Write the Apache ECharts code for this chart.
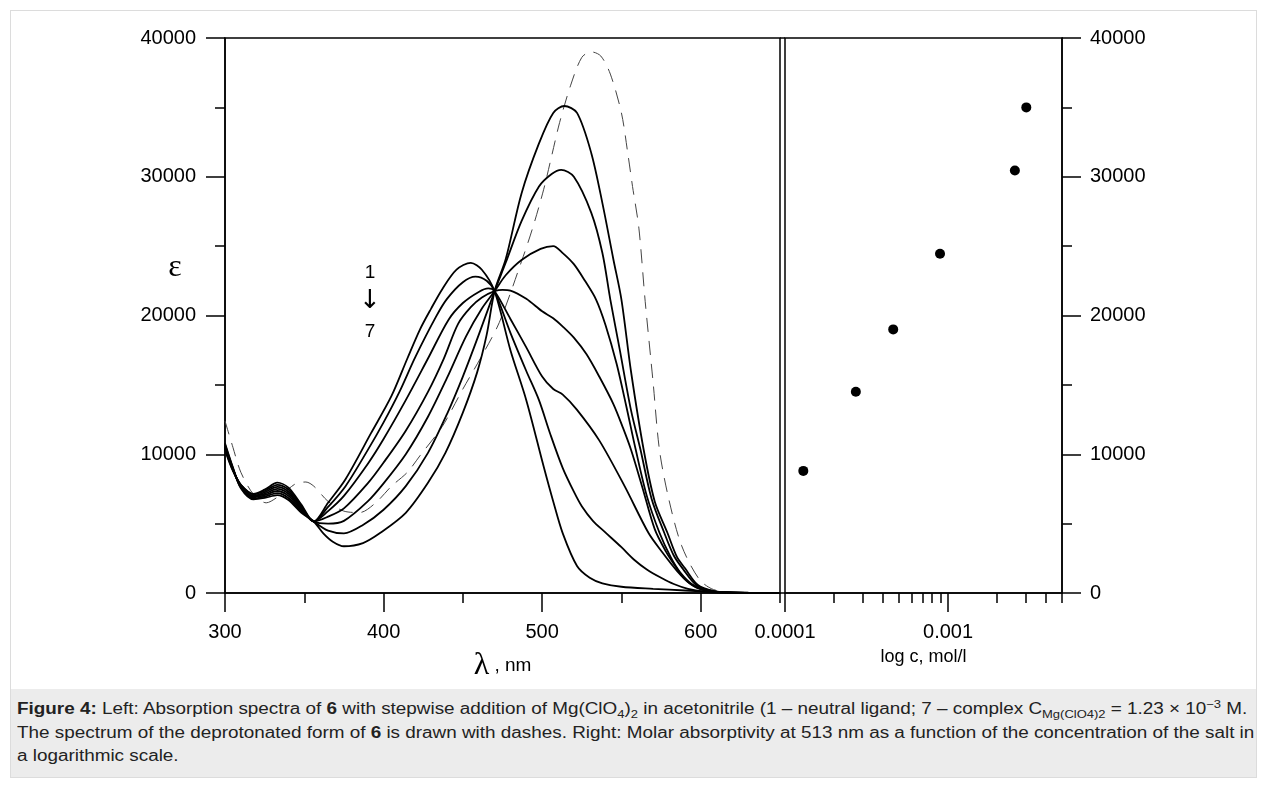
<!DOCTYPE html>
<html>
<head>
<meta charset="utf-8">
<script src="https://cdn.jsdelivr.net/npm/echarts@6/dist/echarts.min.js"></script>
<style>
html,body{margin:0;padding:0;background:#fff;}
#wrap{position:relative;width:1265px;height:787px;overflow:hidden;background:#fff;}
#frame{position:absolute;left:10px;top:10px;width:1247px;height:679px;border:1px solid #dcdcdc;border-bottom:none;box-sizing:border-box;}
#chart{position:absolute;left:0;top:0;width:1265px;height:787px;}
#caption{position:absolute;left:10px;top:689px;width:1247px;height:89px;background:#ececec;border:1px solid #dcdcdc;border-top:none;box-sizing:border-box;
  font-family:"Liberation Sans",Arial,sans-serif;font-size:16px;line-height:23.5px;padding:8px 6px;color:#222;white-space:nowrap;z-index:2;}
#caption .t{display:inline-block;transform-origin:left top;transform:scaleX(1.18);}
#caption sub,#caption sup{font-size:11px;line-height:0;}
</style>
</head>
<body>
<div id="wrap">
  <div id="frame"></div>
  <div id="chart"></div>
  <div id="caption"><span class="t"><b>Figure 4:</b> Left: Absorption spectra of <b>6</b> with stepwise addition of Mg(ClO<sub>4</sub>)<sub>2</sub> in acetonitrile (1 – neutral ligand; 7 – complex C<sub>Mg(ClO4)2</sub> = 1.23 × 10<sup>−3</sup> M.<br>The spectrum of the deprotonated form of <b>6</b> is drawn with dashes. Right: Molar absorptivity at 513 nm as a function of the concentration of the salt in<br>a logarithmic scale.</span></div>
</div>
<script>
// ---------- data ----------
const lambdaMajorTicks = [300, 400, 500, 600];
const lambdaMinorTicks = [350, 450, 550, 650];
const concMajorTicks = [0.0001, 0.001];
const concMinorTicks = [0.0002, 0.0003, 0.0004, 0.0005, 0.0006, 0.0007, 0.0008, 0.0009, 0.002, 0.003, 0.004, 0.005];

const curve1 = [[300,10300],[305,8800],[310,7800],[318,7150],[325,7450],[333,7950],[340,7600],[348,6400],[356,5150],[365,6500],[376,8200],[392,11500],[405,14200],[415,16900],[423,19000],[430,20500],[437,21900],[446,23300],[455,23800],[462,23300],[470,21750],[480,17500],[490,13900],[501,9100],[507,6600],[513,4300],[522,1950],[530,1100],[538,700],[550,450],[570,300],[590,180],[610,80],[630,20],[650,0]];
const curve2 = [[300,10400],[305,8850],[310,7800],[318,7100],[325,7350],[333,7800],[340,7450],[348,6300],[356,5150],[365,6200],[376,7700],[390,10300],[400,12300],[410,14500],[420,17000],[433,19900],[440,21200],[450,22400],[458,22800],[465,22500],[470,21750],[480,18750],[490,16000],[498,13900],[505,11500],[513,9000],[520,7300],[525,6250],[532,5200],[540,4350],[550,3300],[558,2400],[566,1700],[575,1100],[583,650],[592,300],[602,100],[615,20],[650,0]];
const curve3 = [[300,10500],[305,8900],[310,7750],[318,7000],[325,7250],[333,7650],[340,7300],[348,6200],[356,5150],[365,5900],[375,7000],[390,9300],[400,11100],[414,13900],[428,16900],[441,19700],[450,20900],[460,21700],[466,21950],[470,21750],[480,19750],[490,17700],[500,15600],[507,14700],[513,14300],[522,13200],[536,11000],[552,7700],[567,4340],[576,2900],[585,1600],[593,700],[600,300],[612,40],[650,0]];
const curve4 = [[300,10500],[305,8900],[310,7700],[318,6950],[325,7150],[333,7500],[340,7150],[348,6100],[356,5150],[365,5500],[375,6100],[390,7900],[400,9400],[414,11700],[428,14500],[438,16900],[447,19400],[455,20600],[462,21300],[470,21750],[475,21850],[480,21800],[490,21200],[500,20300],[507,19800],[513,19200],[520,18400],[528,17200],[536,15600],[545,13600],[551,11900],[556,10340],[563,7700],[571,4600],[578,3000],[584,1930],[590,1000],[598,350],[610,60],[650,0]];
const curve5 = [[300,10600],[305,8950],[310,7650],[318,6900],[325,7050],[333,7350],[340,7000],[348,6000],[356,5150],[365,5000],[375,5200],[390,6600],[400,7900],[414,10000],[428,12700],[440,15500],[452,18500],[462,20500],[470,21750],[477,22900],[487,24000],[499,24800],[507,25000],[513,24500],[520,23700],[527,22500],[534,21150],[540,19300],[547,16500],[553,13500],[559,10340],[566,7000],[574,4340],[581,2600],[587,1500],[595,600],[605,150],[620,20],[650,0]];
const curve6 = [[300,10700],[305,9000],[310,7600],[318,6800],[325,6950],[333,7200],[340,6850],[348,5900],[356,5150],[365,4500],[375,4300],[387,4900],[400,6000],[414,7700],[428,10100],[440,12900],[450,15600],[460,18600],[470,21750],[477,23800],[487,26800],[498,29300],[506,30200],[512,30500],[520,30000],[531,27400],[538,24500],[543,21150],[549,17500],[556,13200],[562,10340],[569,6800],[577,4340],[583,2700],[589,1700],[597,600],[607,150],[620,20],[650,0]];
const curve7 = [[300,10800],[305,9050],[310,7550],[318,6750],[325,6850],[333,7050],[340,6700],[348,5800],[356,5150],[362,4300],[368,3700],[375,3370],[387,3600],[398,4340],[414,5780],[428,7940],[439,10100],[450,13000],[459,15900],[465,18600],[470,21750],[477,24050],[487,28800],[498,32400],[507,34600],[514,35100],[522,34600],[531,31700],[538,28100],[545,24000],[550,21150],[556,16000],[564,10340],[571,6600],[579,4340],[585,2600],[590,1800],[598,600],[608,150],[620,20],[650,0]];
const deprotonated = [[300,12400],[305,10500],[310,8700],[318,7100],[326,6500],[333,6900],[340,7500],[345,7900],[351,8000],[356,7700],[365,6600],[375,5900],[385,5800],[395,6500],[405,7700],[415,8700],[423,9900],[437,12000],[450,14700],[462,17100],[473,19500],[487,23900],[494,26300],[501,29100],[506,31500],[511,33900],[518,36600],[525,38600],[531,39000],[537,38700],[543,37400],[550,34600],[554,31700],[557,29300],[561,26300],[565,21000],[570,15150],[574,10300],[580,6700],[588,3400],[599,1000],[608,250],[620,50],[650,0]];

const saltConc = [0.0001295, 0.000272, 0.000461, 0.000893, 0.00257, 0.00302];
const eps513 = [8800, 14500, 19000, 24450, 30450, 35000];

// ---------- chart ----------
const FONT = 'Liberation Sans';
const tickFont = {color: '#000', fontSize: 20, fontFamily: FONT};
const axisLine = {show: true, onZero: false, lineStyle: {color: '#000', width: 1.5}};
const chart = echarts.init(document.getElementById('chart'), null, {renderer: 'canvas'});

function solid(name, data) {
  return {name, type: 'line', xAxisIndex: 0, yAxisIndex: 0, data, showSymbol: false, smooth: 0.3,
    lineStyle: {color: '#000', width: 1.8}, z: 3};
}

const option = {
  animation: false,
  backgroundColor: 'transparent',
  grid: [
    {left: 225, top: 38, width: 555, height: 555, show: true, borderColor: '#000', borderWidth: 1.5, backgroundColor: 'transparent', outerBoundsMode: 'none', containLabel: false},
    {left: 785, top: 38, width: 277, height: 555, show: true, borderColor: '#000', borderWidth: 1.5, backgroundColor: 'transparent', outerBoundsMode: 'none', containLabel: false}
  ],
  xAxis: [
    {gridIndex: 0, type: 'value', min: 300, max: 650, position: 'bottom', axisLine,
      axisTick: {show: true, customValues: lambdaMajorTicks, length: 19, lineStyle: {color: '#000', width: 1.5}},
      axisLabel: {customValues: lambdaMajorTicks, margin: 29, formatter: v => String(v), ...tickFont},
      splitLine: {show: false},
      name: '{l|λ} , nm', nameLocation: 'middle', nameGap: 57,
      nameTextStyle: {color: '#000', fontSize: 19, fontFamily: FONT,
        rich: {l: {fontFamily: 'Liberation Serif', fontSize: 32, color: '#000'}}}},
    {gridIndex: 0, type: 'value', min: 300, max: 650, position: 'bottom', axisLine: {show: false, onZero: false},
      axisTick: {show: true, customValues: lambdaMinorTicks, length: 10, lineStyle: {color: '#000', width: 1.5}},
      axisLabel: {show: false}, splitLine: {show: false}},
    {gridIndex: 1, type: 'log', logBase: 10, min: 0.0001, max: 0.005, position: 'bottom', axisLine,
      axisTick: {show: false},
      axisLabel: {showMaxLabel: false, margin: 29, formatter: v => String(v), ...tickFont},
      splitLine: {show: false}, minorSplitLine: {show: false},
      name: 'log c, mol/l', nameLocation: 'middle', nameGap: 55,
      nameTextStyle: {color: '#000', fontSize: 18, fontFamily: FONT}},
    {gridIndex: 1, type: 'value', min: Math.log10(concMajorTicks[0]), max: Math.log10(concMinorTicks[concMinorTicks.length - 1]),
      position: 'bottom', axisLine: {show: false, onZero: false},
      axisTick: {show: true, customValues: concMajorTicks.map(Math.log10), length: 19, lineStyle: {color: '#000', width: 1.5}},
      axisLabel: {show: false}, splitLine: {show: false}},
    {gridIndex: 1, type: 'value', min: Math.log10(concMajorTicks[0]), max: Math.log10(concMinorTicks[concMinorTicks.length - 1]),
      position: 'bottom', axisLine: {show: false, onZero: false},
      axisTick: {show: true, customValues: concMinorTicks.map(Math.log10), length: 10, lineStyle: {color: '#000', width: 1.5}},
      axisLabel: {show: false}, splitLine: {show: false}}
  ],
  yAxis: [
    {gridIndex: 0, type: 'value', min: 0, max: 40000, interval: 10000, position: 'left', axisLine,
      axisTick: {show: true, length: 19, lineStyle: {color: '#000', width: 1.5}},
      minorTick: {show: true, splitNumber: 2, length: 10, lineStyle: {color: '#000', width: 1.5}},
      axisLabel: {margin: 29, formatter: v => String(v), ...tickFont}, splitLine: {show: false}},
    {gridIndex: 1, type: 'value', min: 0, max: 40000, interval: 10000, position: 'right', axisLine,
      axisTick: {show: true, length: 19, lineStyle: {color: '#000', width: 1.5}},
      minorTick: {show: true, splitNumber: 2, length: 10, lineStyle: {color: '#000', width: 1.5}},
      axisLabel: {margin: 28, formatter: v => String(v), ...tickFont}, splitLine: {show: false}}
  ],
  series: [
    solid('1', curve1), solid('2', curve2), solid('3', curve3), solid('4', curve4),
    solid('5', curve5), solid('6', curve6), solid('7', curve7),
    {name: 'deprotonated', type: 'line', xAxisIndex: 0, yAxisIndex: 0, data: deprotonated, showSymbol: false, smooth: 0.3,
      lineStyle: {color: '#444', width: 1, type: [14, 9]}, z: 2},
    {name: 'ε at 513 nm', type: 'scatter', xAxisIndex: 2, yAxisIndex: 1,
      data: saltConc.map((c, i) => [c, eps513[i]]), symbol: 'circle', symbolSize: 10,
      itemStyle: {color: '#000', opacity: 1}}
  ],
  graphic: [
    {type: 'line', shape: {x1: 780, y1: 38, x2: 785, y2: 38}, style: {stroke: '#000', lineWidth: 1.5}},
    {type: 'line', shape: {x1: 780, y1: 593, x2: 785, y2: 593}, style: {stroke: '#000', lineWidth: 1.5}},
    {type: 'text', x: 175, y: 268, style: {text: 'ε', font: '32px "Liberation Serif"', fill: '#000', align: 'center', verticalAlign: 'middle'}},
    {type: 'text', x: 370, y: 273, style: {text: '1', font: '19px "Liberation Sans"', fill: '#000', align: 'center', verticalAlign: 'middle'}},
    {type: 'text', x: 370, y: 301, style: {text: '↓', font: '26px "DejaVu Sans"', fill: '#000', align: 'center', verticalAlign: 'middle'}},
    {type: 'text', x: 370, y: 332, style: {text: '7', font: '19px "Liberation Sans"', fill: '#000', align: 'center', verticalAlign: 'middle'}}
  ]
};
chart.setOption(option);
</script>
</body>
</html>
